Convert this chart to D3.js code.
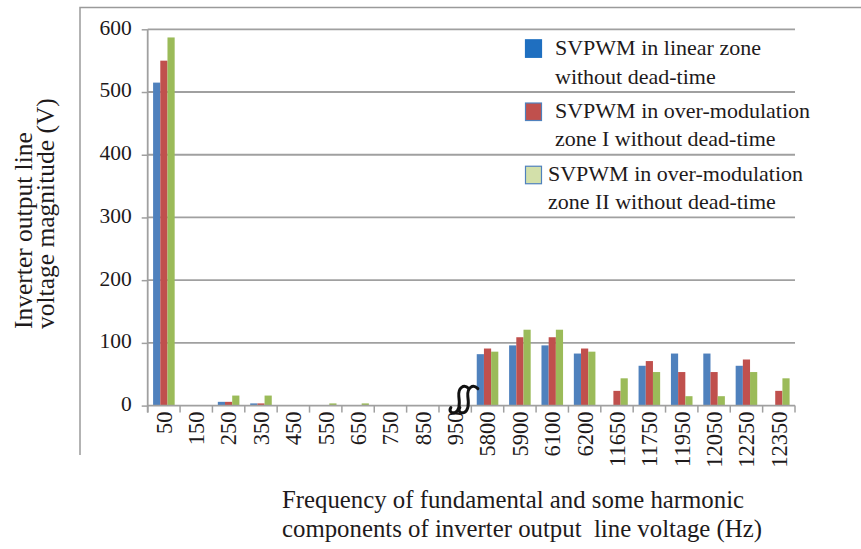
<!DOCTYPE html>
<html>
<head>
<meta charset="utf-8">
<script src="https://cdn.jsdelivr.net/npm/d3@7/dist/d3.min.js"></script>
<style>
  html, body { margin: 0; padding: 0; background: #fff; }
  svg { display: block; font-family: "Liberation Serif", "Times New Roman", serif; }
</style>
</head>
<body>
<svg id="chart" width="861" height="549"></svg>
<script>
// Harmonic spectrum of the inverter output line voltage (Hz on x, V on y)
const categories = ["50","150","250","350","450","550","650","750","850","950",
                    "5800","5900","6100","6200","11650","11750","11950","12050","12250","12350"];

const seriesNames = [
  ["SVPWM in linear zone", "without dead-time"],
  ["SVPWM in over-modulation", "zone I without dead-time"],
  ["SVPWM in over-modulation", "zone II without dead-time"]
];

const linearZone = [515, 0, 6, 3.5, 0, 0, 0, 0, 0, 0, 82, 96, 96, 83, 0, 63.5, 83, 83, 63.5, 0];
const overModZoneI = [550, 0, 6, 3.5, 0, 0, 0, 0, 0, 0, 91, 109, 109, 91, 23.5, 71, 53.5, 53.5, 73.5, 23.5];
const overModZoneII = [587, 0, 16, 16, 0, 3.5, 3.5, 0, 0, 0, 86, 121, 121, 86, 43.5, 53.5, 15, 15, 53.5, 43.5];

const yTicks = [0, 100, 200, 300, 400, 500, 600];

const yTitle = ["Inverter output line", "voltage magnitude (V)"];
const xTitle = ["Frequency of fundamental and some harmonic",
                "components of inverter output  line voltage (Hz)"];

const barColors = ["#4f81bd", "#c0504d", "#9bbb59"];
const swatchFill = ["#1f6fc0", "#c0504d", "#d3e0aa"];
const swatchStroke = ["#1f6fc0", "#4f81bd", "#4f81bd"];
const gridColor = "#a0a0a0";
const textColor = "#1e1a1b";

const seriesValues = [linearZone, overModZoneI, overModZoneII];

const svg = d3.select("#chart");

const plot = { left: 147.7, right: 795, top: 29.3, bottom: 405.6 };

const x = d3.scaleBand()
  .domain(categories)
  .range([plot.left, plot.right])
  .paddingInner(1 / 3)
  .paddingOuter(1 / 6);

const xSeries = d3.scaleBand()
  .domain(d3.range(seriesValues.length))
  .range([0, x.bandwidth()]);

const y = d3.scaleLinear().domain([0, 600]).range([plot.bottom, plot.top]);

// outer frame (top and left edges only)
svg.append("path")
  .attr("d", `M80,455 L80,7.5 L861,7.5`)
  .attr("fill", "none")
  .attr("stroke", "#9a9a9a")
  .attr("stroke-width", 1.5);

// horizontal gridlines
svg.append("g")
  .selectAll("line")
  .data(yTicks.filter(d => d > 0))
  .join("line")
  .attr("x1", plot.left)
  .attr("x2", plot.right)
  .attr("y1", d => y(d))
  .attr("y2", d => y(d))
  .attr("stroke", gridColor)
  .attr("stroke-width", 1.8);

// bars
const groups = svg.append("g")
  .selectAll("g")
  .data(categories)
  .join("g")
  .attr("transform", d => `translate(${x(d)},0)`);

groups.selectAll("rect")
  .data((c, i) => seriesValues.map((s, k) => ({ k, v: s[i] })))
  .join("rect")
  .attr("x", d => xSeries(d.k))
  .attr("width", xSeries.bandwidth())
  .attr("y", d => y(d.v))
  .attr("height", d => y(0) - y(d.v))
  .attr("fill", d => barColors[d.k]);

// y axis
const yAxis = svg.append("g")
  .attr("transform", `translate(${plot.left},0)`)
  .call(d3.axisLeft(y).tickValues(yTicks).tickSize(6).tickPadding(10).tickFormat(d3.format("d")));
yAxis.attr("font-family", null);
yAxis.select(".domain").remove();
yAxis.selectAll(".tick line").attr("stroke", gridColor).attr("stroke-width", 1.5);
yAxis.selectAll(".tick text")
  .attr("fill", textColor)
  .attr("font-size", 21.5)
  .attr("y", -2);

svg.append("line")
  .attr("x1", plot.left).attr("x2", plot.left)
  .attr("y1", plot.top).attr("y2", plot.bottom + 7)
  .attr("stroke", gridColor).attr("stroke-width", 1.8);

// x axis baseline with tick marks at category boundaries
svg.append("line")
  .attr("x1", plot.left).attr("x2", plot.right)
  .attr("y1", y(0)).attr("y2", y(0))
  .attr("stroke", gridColor).attr("stroke-width", 1.8);

const step = x.step();
const boundaries = categories.map(c => x(c) - (step - x.bandwidth()) / 2).concat([plot.right]);
svg.append("g")
  .selectAll("line")
  .data(boundaries)
  .join("line")
  .attr("x1", d => d).attr("x2", d => d)
  .attr("y1", y(0)).attr("y2", y(0) + 7)
  .attr("stroke", gridColor).attr("stroke-width", 1.5);

// x tick labels, rotated
const xAxis = svg.append("g")
  .attr("transform", `translate(0,${y(0)})`)
  .call(d3.axisBottom(x).tickSize(0));
xAxis.attr("font-family", null);
xAxis.select(".domain").remove();
xAxis.selectAll(".tick text")
  .attr("fill", textColor)
  .attr("font-size", 22.5)
  .attr("text-anchor", "end")
  .attr("transform", "rotate(-90)")
  .attr("x", -6)
  .attr("y", 0)
  .attr("dy", "0.35em");

// axis break mark between the low-order and switching-frequency groups
const breakX = x("5800") - (step - x.bandwidth()) / 2 - 7;
const breakY = y(0) - 6;
const sCurve = dx => {
  const cx = breakX + dx, cy = breakY;
  return `M${cx + 9},${cy - 11}
    C${cx + 4},${cy - 16} ${cx - 2},${cy - 12} ${cx - 1},${cy - 3}
    C${cx},${cy + 4} ${cx},${cy + 11} ${cx - 5},${cy + 13}
    C${cx - 9},${cy + 14} ${cx - 11},${cy + 11} ${cx - 9},${cy + 8}`;
};
svg.append("g")
  .selectAll("path")
  .data([-4.5, 4.5])
  .join("path")
  .attr("d", d => sCurve(d))
  .attr("fill", "none")
  .attr("stroke", "#111")
  .attr("stroke-width", 3)
  .attr("stroke-linecap", "round");

// legend
const legend = svg.append("g");
const legendTextX = [555, 555, 548];
seriesNames.forEach((lines, i) => {
  const top = y(600 - 100 * i);
  legend.append("rect")
    .attr("x", 525.5)
    .attr("y", top + 10.5 + i * 0.5)
    .attr("width", 16)
    .attr("height", 17.5)
    .attr("fill", swatchFill[i])
    .attr("stroke", swatchStroke[i])
    .attr("stroke-width", 1.2);
  lines.forEach((t, j) => {
    legend.append("text")
      .attr("x", legendTextX[i])
      .attr("y", top + 26 + j * 28.3)
      .attr("fill", textColor)
      .attr("font-size", 22)
      .text(t);
  });
});

// y axis title
const yt = svg.append("text")
  .attr("transform", "translate(0,329) rotate(-90)")
  .attr("fill", textColor)
  .attr("font-size", 25.5);
yTitle.forEach((t, j) => {
  yt.append("tspan").attr("x", 0).attr("y", 32 + j * 21.5).text(t);
});

// x axis title
const xt = svg.append("text")
  .attr("fill", textColor)
  .attr("font-size", 24.8);
xTitle.forEach((t, j) => {
  xt.append("tspan").attr("x", 282).attr("y", 508 + j * 29).attr("xml:space", "preserve").text(t);
});
</script>
</body>
</html>
